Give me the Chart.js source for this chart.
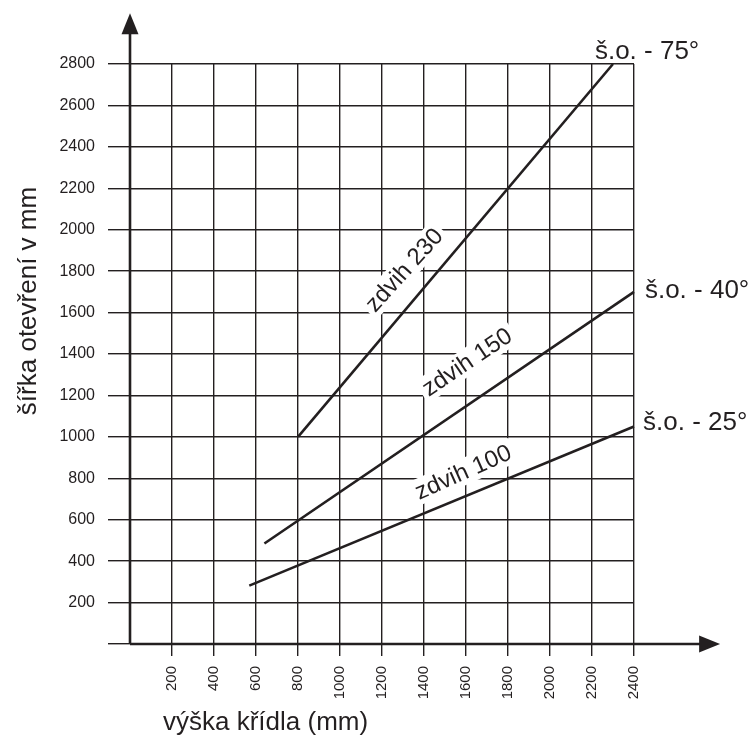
<!DOCTYPE html>
<html>
<head>
<meta charset="utf-8">
<script src="https://cdn.jsdelivr.net/npm/chart.js@4"></script>
<style>
  html, body { margin: 0; padding: 0; background: #fff; overflow: hidden; }
</style>
</head>
<body>
<canvas id="myGraph" width="755" height="738"></canvas>
<script>
(() => {

//----- Data -----//

    var xTicks = [200, 400, 600, 800, 1000, 1200, 1400, 1600, 1800, 2000, 2200, 2400]
    var yTicks = [200, 400, 600, 800, 1000, 1200, 1400, 1600, 1800, 2000, 2200, 2400, 2600, 2800]

    var seriesNames = ['zdvih 230', 'zdvih 150', 'zdvih 100']
    var angleNames = ['š.o. - 75°', 'š.o. - 40°', 'š.o. - 25°']

    var zdvih230X = [800, 2300]
    var zdvih230Y = [1000, 2800]
    var zdvih150X = [640, 2400]
    var zdvih150Y = [485, 1700]
    var zdvih100X = [568, 2400]
    var zdvih100Y = [282, 1050]

    var xTitle = 'výška křídla (mm)'
    var yTitle = 'šířka otevření v mm'

//----- Settings -----//

    var ink = '#231f20'
    var font = '"Liberation Sans", Arial, Helvetica, sans-serif'

    // label anchors in axis units
    var seriesLabelPos = [
        { x: 1305, y: 1806, angle: -48 },
        { x: 1605, y: 1362, angle: -34 },
        { x: 1586, y: 830, angle: -24 }
    ]
    var angleLabelPos = [
        { x: 2214, y: 2825 },
        { x: 2452, y: 1671 },
        { x: 2443, y: 1033 }
    ]
    var xArrowTip = 2810
    var yArrowTip = 3045

//----- Functions -----//

    function toPoints (xs, ys) {
        var pts = []
        for (var i = 0; i < xs.length; i++) {
            pts.push({ x: xs[i], y: ys[i] })
        }
        return pts
    }

    function makeSet (label, xs, ys) {
        return {
            label: label,
            data: toPoints(xs, ys),
            borderColor: ink,
            borderWidth: 2.6,
            pointRadius: 0,
            fill: false,
            tension: 0,
            clip: false
        }
    }

    var decorPlugin = {
        id: 'decor',
        afterDraw: function (chart) {
            var ctx = chart.ctx
            var sx = chart.scales.x
            var sy = chart.scales.y
            var x0 = sx.getPixelForValue(0)
            var y0 = sy.getPixelForValue(0)
            var xt = sx.getPixelForValue(xArrowTip)
            var yt = sy.getPixelForValue(yArrowTip)

            ctx.save()
            ctx.strokeStyle = ink
            ctx.fillStyle = ink
            ctx.lineWidth = 2.6

            // axis extensions + arrows
            ctx.beginPath()
            ctx.moveTo(x0, y0)
            ctx.lineTo(x0, yt + 18)
            ctx.moveTo(x0, y0)
            ctx.lineTo(xt - 18, y0)
            ctx.stroke()

            ctx.beginPath()
            ctx.moveTo(x0, yt)
            ctx.lineTo(x0 - 8.5, yt + 21)
            ctx.lineTo(x0 + 8.5, yt + 21)
            ctx.closePath()
            ctx.fill()

            ctx.beginPath()
            ctx.moveTo(xt, y0)
            ctx.lineTo(xt - 21, y0 - 8.5)
            ctx.lineTo(xt - 21, y0 + 8.5)
            ctx.closePath()
            ctx.fill()

            // series labels with white box
            ctx.font = '24px ' + font
            ctx.textAlign = 'center'
            ctx.textBaseline = 'middle'
            for (var i = 0; i < seriesNames.length; i++) {
                var p = seriesLabelPos[i]
                var w = ctx.measureText(seriesNames[i]).width
                ctx.save()
                ctx.translate(sx.getPixelForValue(p.x), sy.getPixelForValue(p.y))
                ctx.rotate(p.angle * Math.PI / 180)
                ctx.fillStyle = '#fff'
                ctx.fillRect(-w / 2 - 4, -13, w + 8, 26)
                ctx.fillStyle = ink
                ctx.fillText(seriesNames[i], 0, 1)
                ctx.restore()
            }

            // angle labels
            ctx.font = '26px ' + font
            ctx.textAlign = 'left'
            ctx.textBaseline = 'alphabetic'
            for (var j = 0; j < angleNames.length; j++) {
                var q = angleLabelPos[j]
                ctx.fillText(angleNames[j], sx.getPixelForValue(q.x), sy.getPixelForValue(q.y))
            }

            // axis titles
            ctx.fillText(xTitle, 163, 730)
            ctx.save()
            ctx.translate(36, 301)
            ctx.rotate(-Math.PI / 2)
            ctx.textAlign = 'center'
            ctx.fillText(yTitle, 0, 0)
            ctx.restore()

            ctx.restore()
        }
    }

//----- construct chart -----//

    const data = {
        datasets: [
            makeSet(seriesNames[0], zdvih230X, zdvih230Y),
            makeSet(seriesNames[1], zdvih150X, zdvih150Y),
            makeSet(seriesNames[2], zdvih100X, zdvih100Y)
        ]
    }

    const myChart = new Chart(
      document.getElementById('myGraph'), {
        type: 'line',
        data: data,
        plugins: [decorPlugin],
        options: {
            responsive: false,
            animation: false,
            layout: { padding: { top: 64, right: 121, left: 0, bottom: 0 } },
            plugins: { legend: { display: false }, tooltip: { enabled: false } },
            scales: {
                x: {
                    type: 'linear',
                    min: 0,
                    max: 2400,
                    afterFit: function (s) { s.height = 94 },
                    afterBuildTicks: function (s) {
                        s.ticks = [{ value: 0 }].concat(xTicks.map(function (v) { return { value: v } }))
                    },
                    ticks: {
                        autoSkip: false,
                        minRotation: 90,
                        maxRotation: 90,
                        padding: 10,
                        color: ink,
                        font: { family: font, size: 15 },
                        callback: function (v) { return v === 0 ? '' : String(v) }
                    },
                    grid: {
                        color: function (c) { return c.tick && c.tick.value === 0 ? 'rgba(0,0,0,0)' : ink },
                        lineWidth: 1.4,
                        tickLength: 12
                    },
                    border: { display: false }
                },
                y: {
                    type: 'linear',
                    min: 0,
                    max: 2800,
                    afterFit: function (s) { s.width = 130 },
                    afterBuildTicks: function (s) {
                        s.ticks = [{ value: 0 }].concat(yTicks.map(function (v) { return { value: v } }))
                    },
                    ticks: {
                        padding: 13,
                        color: ink,
                        font: { family: font, size: 16 },
                        callback: function (v) { return v === 0 ? '' : String(v) }
                    },
                    grid: {
                        color: ink,
                        lineWidth: 1.4,
                        tickLength: 22
                    },
                    border: { display: false }
                }
            }
        }
      }
    )

})();
</script>
</body>
</html>
